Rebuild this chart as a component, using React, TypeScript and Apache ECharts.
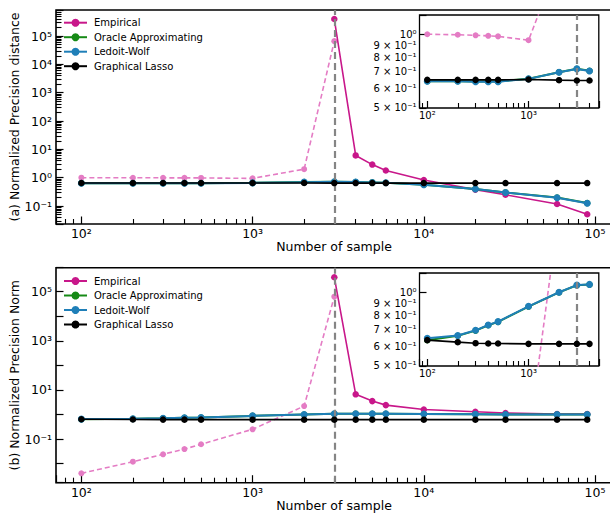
import React, { useEffect, useRef } from 'react';
import * as echarts from 'echarts';

// ---------- data ----------
const SAMPLE_N = [100, 200, 300, 400, 500, 1000, 2000, 3000, 4000, 5000, 6000, 10000, 20000, 30000, 60000, 90000];
const EMP_LOW_N = [100, 200, 300, 400, 500, 1000, 2000, 3000];
const EMP_HIGH_N = [3000, 4000, 5000, 6000, 10000, 20000, 30000, 60000, 90000];
const CRITICAL_N = 3000;

// (a) Normalized precision distance
const A_EMP_LOW = [1.0, 0.995, 0.99, 0.985, 0.98, 0.945, 2.0, 66000];
const A_EMP_HIGH = [398000, 6.1, 2.9, 1.8, 0.83, 0.38, 0.25, 0.118, 0.051];
const A_OAS = [0.641, 0.641, 0.639, 0.639, 0.639, 0.656, 0.698, 0.721, 0.707, 0.681, 0.661, 0.568, 0.402, 0.302, 0.199, 0.127];
const A_LW = [0.64, 0.64, 0.638, 0.638, 0.638, 0.655, 0.697, 0.72, 0.706, 0.68, 0.66, 0.566, 0.4, 0.3, 0.197, 0.125];
const A_GL = [0.649, 0.649, 0.649, 0.649, 0.649, 0.651, 0.647, 0.645, 0.645, 0.645, 0.645, 0.645, 0.645, 0.645, 0.645, 0.645];

// (b) Normalized precision norm
const B_EMP_LOW = [0.004, 0.0119, 0.0238, 0.039, 0.061, 0.248, 2.2, 62500];
const B_EMP_HIGH = [390000, 6.6, 3.5, 2.4, 1.6, 1.29, 1.15, 1.04, 1.04];
const B_OAS = [0.635, 0.662, 0.695, 0.731, 0.755, 0.873, 0.998, 1.068, 1.075, 1.068, 1.066, 1.046, 1.018, 0.998, 0.996, 0.988];
const B_LW = [0.646, 0.664, 0.697, 0.733, 0.757, 0.875, 1.0, 1.07, 1.077, 1.07, 1.068, 1.048, 1.02, 1.0, 0.998, 0.99];
const B_GL = [0.635, 0.623, 0.617, 0.615, 0.615, 0.613, 0.613, 0.613, 0.613, 0.613, 0.613, 0.613, 0.613, 0.613, 0.613, 0.613];

const SERIES_NAMES = ['Empirical', 'Oracle Approximating', 'Ledoit-Wolf', 'Graphical Lasso'];

// ---------- tick labels ----------
const MAIN_X_TICKS = [100, 1000, 10000, 100000];
const MAIN_X_LABELS = ['10²', '10³', '10⁴', '10⁵'];
const A_Y_TICKS = [0.1, 1, 10, 100, 1000, 10000, 100000];
const A_Y_LABELS = ['10⁻¹', '10⁰', '10¹', '10²', '10³', '10⁴', '10⁵'];
const B_Y_TICKS = [0.1, 10, 1000, 100000];
const B_Y_LABELS = ['10⁻¹', '10¹', '10³', '10⁵'];
const INSET_X_TICKS = [100, 1000];
const INSET_X_LABELS = ['10²', '10³'];
const INSET_Y_TICKS = [0.5, 0.6, 0.7, 0.8, 0.9, 1.0];
const INSET_Y_LABELS = ['5 × 10⁻¹', '6 × 10⁻¹', '7 × 10⁻¹', '8 × 10⁻¹', '9 × 10⁻¹', '10⁰'];

const MAIN_X_RANGE = [71.1, 125600];
const A_Y_RANGE = [0.0232, 828000];
const B_Y_RANGE = [0.00166, 950000];
const INSET_X_RANGE = [83.8, 4940];
const INSET_Y_RANGE = [0.497, 1.2];

const C_EMP = '#c8178a';
const C_EMP_LOW = '#e47cc4';
const C_OAS = '#168a16';
const C_LW = '#1f7fb8';
const C_GL = '#000000';
const FONT = 'DejaVu Sans';

function geoMid(r: number[]) {
  return Math.sqrt(r[0] * r[1]);
}

// tick labels placed through the axes' own scales (custom series)
function labelSeries(c: any) {
  const xm = geoMid(c.xRange);
  const ym = geoMid(c.yRange);
  const data: number[][] = [];
  c.xTicks.forEach((v: number, i: number) => data.push([v, ym, 0, i]));
  c.yTicks.forEach((v: number, i: number) => data.push([xm, v, 2, i]));
  return {
    type: 'custom',
    xAxisIndex: c.grid,
    yAxisIndex: c.grid,
    silent: true,
    clip: false,
    z: 10,
    encode: { x: 0, y: 1 },
    data,
    renderItem: (params: any, api: any) => {
      const cs = params.coordSys;
      const kind = api.value(2);
      const idx = api.value(3);
      const p = api.coord([api.value(0), api.value(1)]);
      const bottom = cs.y + cs.height;
      const left = cs.x;
      if (kind === 0) {
        return {
          type: 'text', x: p[0], y: bottom + c.xLabelGap,
          style: { text: c.xLabels[idx], fill: '#000', fontSize: c.fontSize, fontFamily: FONT, align: 'center', verticalAlign: 'top' },
        };
      }
      return {
        type: 'text', x: left - c.yLabelGap, y: p[1],
        style: { text: c.yLabels[idx], fill: '#000', fontSize: c.fontSize, fontFamily: FONT, align: 'right', verticalAlign: 'middle' },
      };
    },
  };
}

function pairs(xs: number[], ys: number[]) {
  return xs.map((x, i) => [x, ys[i]]);
}

function panelSeries(grid: number, empLow: number[], empHigh: number[], oas: number[], lw: number[], gl: number[], inset: boolean) {
  const n = inset ? 9 : SAMPLE_N.length;
  const xs = SAMPLE_N.slice(0, n);
  const highN = inset ? EMP_HIGH_N.slice(0, 2) : EMP_HIGH_N;
  const highV = inset ? empHigh.slice(0, 2) : empHigh;
  const common = { xAxisIndex: grid, yAxisIndex: grid, type: 'line', symbol: 'circle', showSymbol: true, clip: true };
  return [
    {
      ...common, name: 'Empirical (n < p)', data: pairs(EMP_LOW_N, empLow), symbolSize: 6,
      itemStyle: { color: C_EMP_LOW }, lineStyle: { color: C_EMP_LOW, width: 1.6, type: [5, 3] }, z: 2,
    },
    {
      ...common, name: SERIES_NAMES[0], data: pairs(highN, highV), symbolSize: 6.5,
      itemStyle: { color: C_EMP }, lineStyle: { color: C_EMP, width: 1.6 }, z: 3,
    },
    {
      ...common, name: SERIES_NAMES[1], data: pairs(xs, oas.slice(0, n)), symbolSize: 6.5,
      itemStyle: { color: C_OAS }, lineStyle: { color: C_OAS, width: 2 }, z: 3,
    },
    {
      ...common, name: SERIES_NAMES[2], data: pairs(xs, lw.slice(0, n)), symbolSize: 7,
      itemStyle: { color: C_LW }, lineStyle: { color: C_LW, width: 2 }, z: 4,
    },
    {
      ...common, name: SERIES_NAMES[3], data: pairs(xs, gl.slice(0, n)), symbolSize: 6.5,
      itemStyle: { color: C_GL }, lineStyle: { color: C_GL, width: 1.6 }, z: 5,
      markLine: {
        silent: true, symbol: ['none', 'none'], label: { show: false },
        lineStyle: { color: '#858585', width: 2.2, type: [7, 4] },
        data: [{ xAxis: CRITICAL_N }],
      },
    },
  ];
}

const MAIN_GRID = { left: 56, width: 556 };
const INSET_GRID = { left: 419.5, width: 179.3, height: 93 };

function tickOpts(major: number, minor: number, withMinor: boolean) {
  return {
    axisLine: { show: false },
    axisLabel: { show: false },
    splitLine: { show: false },
    minorSplitLine: { show: false },
    axisTick: { show: true, inside: true, length: major, lineStyle: { color: '#000', width: 1.2 } },
    minorTick: { show: withMinor, splitNumber: 9, length: minor, lineStyle: { color: '#000', width: 1.1 } },
  };
}

function buildOption() {
  const gridBase = { show: true, borderColor: '#000', containLabel: false, outerBoundsMode: 'none' };
  const grids = [
    { ...gridBase, ...MAIN_GRID, top: 10, height: 214, borderWidth: 1.6 },
    { ...gridBase, ...INSET_GRID, top: 15, borderWidth: 1.3, backgroundColor: '#fff' },
    { ...gridBase, ...MAIN_GRID, top: 267.7, height: 215, borderWidth: 1.6 },
    { ...gridBase, ...INSET_GRID, top: 273, borderWidth: 1.3, backgroundColor: '#fff' },
  ];
  const nameStyle = { fontSize: 12.5, fontFamily: FONT, color: '#000' };
  const xAxes = [
    { gridIndex: 0, type: 'log', min: MAIN_X_RANGE[0], max: MAIN_X_RANGE[1], ...tickOpts(7.5, 5, true), name: 'Number of sample', nameLocation: 'middle', nameGap: 16, nameTextStyle: nameStyle },
    { gridIndex: 1, type: 'log', min: INSET_X_RANGE[0], max: INSET_X_RANGE[1], ...tickOpts(7, 5, true) },
    { gridIndex: 2, type: 'log', min: MAIN_X_RANGE[0], max: MAIN_X_RANGE[1], ...tickOpts(7.5, 5, true), name: 'Number of sample', nameLocation: 'middle', nameGap: 16, nameTextStyle: nameStyle },
    { gridIndex: 3, type: 'log', min: INSET_X_RANGE[0], max: INSET_X_RANGE[1], ...tickOpts(7, 5, true) },
  ];
  const yAxes = [
    { gridIndex: 0, type: 'log', min: A_Y_RANGE[0], max: A_Y_RANGE[1], ...tickOpts(7.5, 5.5, true), name: '(a) Normalized Precision distance', nameLocation: 'middle', nameGap: 35, nameTextStyle: nameStyle },
    { gridIndex: 1, type: 'log', min: INSET_Y_RANGE[0], max: INSET_Y_RANGE[1], ...tickOpts(7, 5, false) },
    { gridIndex: 2, type: 'log', min: B_Y_RANGE[0], max: B_Y_RANGE[1], ...tickOpts(7.5, 5, false), name: '(b) Normalized Precision Norm', nameLocation: 'middle', nameGap: 35, nameTextStyle: nameStyle },
    { gridIndex: 3, type: 'log', min: INSET_Y_RANGE[0], max: INSET_Y_RANGE[1], ...tickOpts(7, 5, false) },
  ];

  const labels = [
    labelSeries({ grid: 0, xRange: MAIN_X_RANGE, yRange: A_Y_RANGE, xTicks: MAIN_X_TICKS, yTicks: A_Y_TICKS, xLabels: MAIN_X_LABELS, yLabels: A_Y_LABELS, fontSize: 12.5, xLabelGap: 3, yLabelGap: 4 }),
    labelSeries({ grid: 1, xRange: INSET_X_RANGE, yRange: INSET_Y_RANGE, xTicks: INSET_X_TICKS, yTicks: INSET_Y_TICKS, xLabels: INSET_X_LABELS, yLabels: INSET_Y_LABELS, fontSize: 10, xLabelGap: 2, yLabelGap: 3 }),
    labelSeries({ grid: 2, xRange: MAIN_X_RANGE, yRange: B_Y_RANGE, xTicks: MAIN_X_TICKS, yTicks: B_Y_TICKS, xLabels: MAIN_X_LABELS, yLabels: B_Y_LABELS, fontSize: 12.5, xLabelGap: 3, yLabelGap: 4 }),
    labelSeries({ grid: 3, xRange: INSET_X_RANGE, yRange: INSET_Y_RANGE, xTicks: INSET_X_TICKS, yTicks: INSET_Y_TICKS, xLabels: INSET_X_LABELS, yLabels: INSET_Y_LABELS, fontSize: 10, xLabelGap: 2, yLabelGap: 3 }),
  ];

  const legendBase = {
    orient: 'vertical', left: 63, itemWidth: 23, itemHeight: 10, itemGap: 4.5, padding: 0,
    data: SERIES_NAMES, selectedMode: false,
    textStyle: { fontSize: 10, fontFamily: FONT, color: '#000', lineHeight: 10, padding: [0, 0, 0, 2] },
  };

  return {
    animation: false,
    textStyle: { fontFamily: FONT },
    grid: grids,
    xAxis: xAxes,
    yAxis: yAxes,
    legend: [
      { ...legendBase, top: 17.7 },
      { ...legendBase, top: 276 },
    ],
    series: [
      ...panelSeries(0, A_EMP_LOW, A_EMP_HIGH, A_OAS, A_LW, A_GL, false),
      ...panelSeries(1, A_EMP_LOW, A_EMP_HIGH, A_OAS, A_LW, A_GL, true),
      ...panelSeries(2, B_EMP_LOW, B_EMP_HIGH, B_OAS, B_LW, B_GL, false),
      ...panelSeries(3, B_EMP_LOW, B_EMP_HIGH, B_OAS, B_LW, B_GL, true),
      ...labels,
    ],
  };
}

export default function App() {
  const ref = useRef<HTMLDivElement>(null);
  useEffect(() => {
    if (!ref.current) return;
    const chart = echarts.init(ref.current, undefined, { renderer: 'svg' });
    chart.setOption(buildOption() as any);
    return () => chart.dispose();
  }, []);
  return (
    <div
      ref={ref}
      style={{ position: 'fixed', left: 0, top: 0, width: 610, height: 515, background: '#fff' }}
    />
  );
}
